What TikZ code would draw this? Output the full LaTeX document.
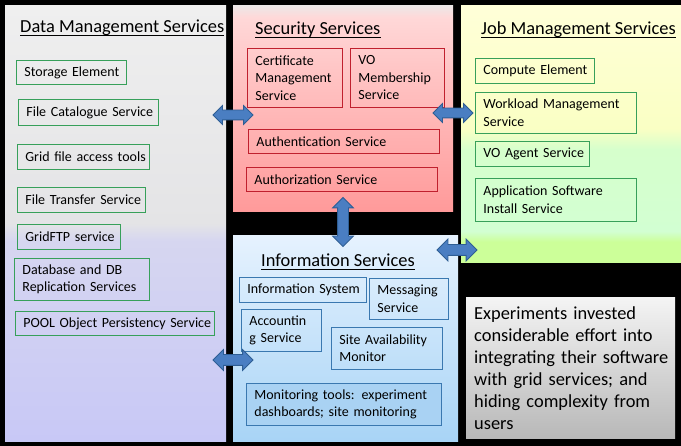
\documentclass[tikz,border=0pt]{standalone}
\usepackage{fontspec}
\setmainfont{Carlito}
\usetikzlibrary{shapes.arrows}
\definecolor{dmA}{HTML}{C8C8F6}
\definecolor{dmB}{HTML}{D6D6F0}
\definecolor{dmC}{HTML}{E4E4E6}
\definecolor{dmD}{HTML}{EFEFEF}
\definecolor{seA}{HTML}{FF9A9A}
\definecolor{seB}{HTML}{FFC6C6}
\definecolor{seC}{HTML}{FFD8D8}
\definecolor{seD}{HTML}{ECE8E8}
\definecolor{jbA}{HTML}{CCFF99}
\definecolor{jbB}{HTML}{D2FFD2}
\definecolor{jbC}{HTML}{D6FFCC}
\definecolor{jbD}{HTML}{FAFFC4}
\definecolor{jbE}{HTML}{FFFFD8}
\definecolor{inA}{HTML}{A8D4F6}
\definecolor{inB}{HTML}{E6F2FE}
\definecolor{ntA}{HTML}{B8B8B8}
\definecolor{ntB}{HTML}{F4F4F4}
\definecolor{greenB}{HTML}{37A05A}
\definecolor{redB}{HTML}{C0202E}
\definecolor{blueB}{HTML}{3A78B0}
\definecolor{monFill}{HTML}{A9D2F3}
\definecolor{arrFill}{HTML}{4A7EC2}
\definecolor{arrDraw}{HTML}{2E5E94}
\pgfdeclareverticalshading{dmshade}{100bp}{color(0bp)=(dmA); color(25bp)=(dmA); color(48bp)=(dmB); color(50bp)=(dmC); color(75bp)=(dmD); color(100bp)=(dmD)}
\pgfdeclareverticalshading{seshade}{100bp}{color(0bp)=(seA); color(25bp)=(seA); color(60bp)=(seB); color(72bp)=(seC); color(75bp)=(seD); color(100bp)=(seD)}
\pgfdeclareverticalshading{jbshade}{100bp}{color(0bp)=(jbA); color(25bp)=(jbA); color(29bp)=(jbA); color(31bp)=(jbB); color(47bp)=(jbC); color(51bp)=(jbD); color(75bp)=(jbE); color(100bp)=(jbE)}
\pgfdeclareverticalshading{inshade}{100bp}{color(0bp)=(inA); color(25bp)=(inA); color(75bp)=(inB); color(100bp)=(inB)}
\pgfdeclareverticalshading{ntshade}{100bp}{color(0bp)=(ntA); color(25bp)=(ntA); color(75bp)=(ntB); color(100bp)=(ntB)}
\begin{document}
\begin{tikzpicture}[x=1pt,y=-1pt,
  panel/.style={anchor=north west, inner sep=0pt, shade, draw=none},
  title/.style={anchor=base west, inner sep=0pt, font=\fontsize{18.4}{22}\selectfont},
  uline/.style={line width=1.1pt},
  sbox/.style={draw, anchor=north west, inner xsep=8pt, inner ysep=0pt, align=left,
    font=\fontsize{14}{17.5}\selectfont, line width=0.8pt},
  dmbox/.style={sbox, draw=greenB},
  jbbox/.style={sbox, draw=greenB},
  sebox/.style={sbox, draw=redB},
  inbox/.style={sbox, draw=blueB},
  dblarrow/.style={double arrow, fill=arrFill, draw=arrDraw, line width=0.8pt,
    inner xsep=0pt, inner ysep=4.5pt, double arrow head extend=4.5pt,
    double arrow tip angle=90, minimum height=40pt}
]
\useasboundingbox (0,0) rectangle (681,446);
\fill[black] (0,0) rectangle (681,446);

% panels
\node[panel, shading=dmshade, minimum width=221, minimum height=436] (dm) at (5,5) {};
\node[panel, shading=seshade, minimum width=220, minimum height=206] (se) at (233,5) {};
\node[panel, shading=jbshade, minimum width=220, minimum height=257] (jb) at (461,5) {};
\node[panel, shading=inshade, minimum width=225, minimum height=206] (in) at (233,235) {};
\node[panel, shading=ntshade, minimum width=209, minimum height=141, inner xsep=8pt,
  align=left, text width=193, font=\fontsize{18.4}{22}\selectfont] (nt) at (466,297)
  {\mbox{Experiments invested}\\\mbox{considerable effort into}\\\mbox{integrating their software}\\\mbox{with grid services; and}\\\mbox{hiding complexity from}\\users};

% titles
\node[title] (dmt) at (20,33) {Data Management Services};
\node[title] (set) at (255,35) {Security Services};
\node[title] (jbt) at (481,35) {Job Management Services};
\node[title] (int) at (261,267) {Information Services};
\foreach \t in {dmt,set,jbt,int}
  \draw[uline] ([yshift=-2.5pt]\t.base west) -- ([yshift=-2.5pt]\t.base east);

% data management
\node[dmbox, text width=94, minimum height=24] (d1) at (16,60) {\mbox{Storage Element}};
\node[dmbox, text width=124, minimum height=26] (d2) at (18,99) {\mbox{File Catalogue Service}};
\node[dmbox, text width=116, minimum height=25] (d3) at (17,144) {\mbox{Grid file access tools}};
\node[dmbox, text width=112, minimum height=25] (d4) at (17,187) {\mbox{File Transfer Service}};
\node[dmbox, text width=87, minimum height=25] (d5) at (17,224) {\mbox{GridFTP service}};
\node[dmbox, text width=119, minimum height=42] (d6) at (14,258) {\mbox{Database and DB}\\\mbox{Replication Services}};
\node[dmbox, text width=183, minimum height=24] (d7) at (15,311) {\mbox{POOL Object Persistency Service}};

% security
\node[sebox, text width=79, minimum height=59] (s1) at (247,48) {Certificate\\Management\\Service};
\node[sebox, text width=78, minimum height=59] (s2) at (350,48) {VO\\Membership\\Service};
\node[sebox, text width=175, minimum height=24] (s3) at (248,129) {\mbox{Authentication Service}};
\node[sebox, text width=175, minimum height=24] (s4) at (246,167) {\mbox{Authorization Service}};

% job management
\node[jbbox, text width=103, minimum height=25] (j1) at (475,58) {\mbox{Compute Element}};
\node[jbbox, text width=145, minimum height=41] (j2) at (475,92) {\mbox{Workload Management}\\Service};
\node[jbbox, text width=98, minimum height=25] (j3) at (475,141) {\mbox{VO Agent Service}};
\node[jbbox, text width=145, minimum height=43] (j4) at (475,178) {\mbox{Application Software}\\\mbox{Install Service}};

% information
\node[inbox, text width=111, minimum height=25] (i1) at (239,277) {\mbox{Information System}};
\node[inbox, text width=63, minimum height=41] (i2) at (369,278) {Messaging\\Service};
\node[inbox, text width=64, minimum height=42] (i3) at (241,309) {Accountin\\\mbox{g Service}};
\node[inbox, text width=95, minimum height=42] (i4) at (331,327) {\mbox{Site Availability}\\Monitor};
\node[inbox, fill=monFill, text width=179, minimum height=42] (i5) at (246,383) {\mbox{Monitoring tools: experiment}\\\mbox{dashboards; site monitoring}};

% connectors (block arrows)
\node[dblarrow] (a1) at (233,115) {};
\node[dblarrow] (a2) at (453,113) {};
\node[dblarrow, rotate=90, minimum height=49pt, inner ysep=5pt, double arrow head extend=5pt] (a3) at (343,222) {};
\node[dblarrow, inner ysep=5pt, double arrow head extend=5.5pt] (a4) at (457,250) {};
\node[dblarrow, inner ysep=5pt, double arrow head extend=5pt] (a5) at (233,360) {};
\end{tikzpicture}
\end{document}
